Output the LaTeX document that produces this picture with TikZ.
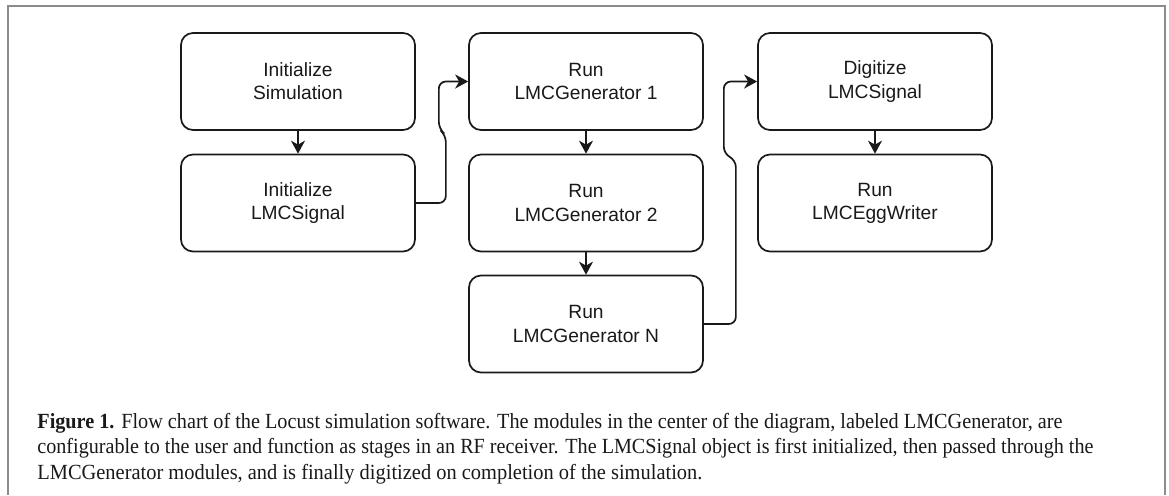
\documentclass[tikz,border=0pt]{standalone}
\usepackage{fontspec}
\usepackage{graphicx}
\newfontfamily\boxfont{Liberation Sans}
\newfontfamily\capfont{Liberation Serif}
\usetikzlibrary{arrows.meta}
\newcommand{\capline}[2]{\resizebox{#1}{\height}{#2}}
\begin{document}
\begin{tikzpicture}
        [x=0.5pt, y=-0.5pt,
        module/.style={draw=black!90, line width=0.85pt, rounded corners=6pt, minimum width=117pt, minimum height=48.5pt, align=center, font=\boxfont\fontsize{9.6}{11.6}\selectfont, text=black!90},
        link/.style={draw=black!90, line width=0.85pt, -{Stealth[length=6.5pt, width=7pt, inset=2pt]}},
        elbow/.style={link, rounded corners=3.5pt},
        captext/.style={anchor=base west, inner sep=0pt, font=\capfont\fontsize{10.8}{13}\selectfont, text=black!90},
        figframe/.style={draw=black!45, line width=1pt}]

        \useasboundingbox (0,0) rectangle (1169,495);

        % open frame round the figure
        \coordinate (fbl) at (8,495);
        \coordinate (fbr) at (1165,495);
        \draw[figframe] (fbl) |- (1165,6) -- (fbr);

        % modules
        \node[module] (initsim) at (298,81.5) {Initialize\\Simulation};
        \node[module] (initsig) at (298,203) {Initialize\\LMCSignal};
        \node[module] (rungen1) at (586,81.5) {Run\\LMCGenerator 1};
        \node[module] (rungen2) at (586,203) {Run\\LMCGenerator 2};
        \node[module] (rungenN) at (586,324) {Run\\LMCGenerator N};
        \node[module] (digit) at (875,81.5) {Digitize\\LMCSignal};
        \node[module] (writer) at (875,203) {Run\\LMCEggWriter};

        % straight links
        \draw[link] (initsim) -- (initsig);
        \draw[link] (rungen1) -- (rungen2);
        \draw[link] (rungen2) -- (rungenN);
        \draw[link] (digit) -- (writer);

        % links between the columns
        \draw[elbow] (initsig.east) -- ++(30,0) -- ++(0,-68) -- ++(-7,-6) |- (rungen1.west);
        \draw[elbow] (rungenN.east) -- ++(32,0) -- ++(0,-164) -- ++(-12,-6) |- (digit.west);

        % caption
        \node[captext] (cap1) at (37,428) {\capline{512.5pt}{\textbf{Figure 1.} Flow chart of the Locust simulation software. The modules in the center of the diagram, labeled LMCGenerator, are}};
        \node[captext] (cap2) at (37,453.5) {\capline{528pt}{configurable to the user and function as stages in an RF receiver. The LMCSignal object is first initialized, then passed through the}};
        \node[captext] (cap3) at (37,479) {\capline{332.5pt}{LMCGenerator modules, and is finally digitized on completion of the simulation.}};

        \end{tikzpicture}
\end{document}
